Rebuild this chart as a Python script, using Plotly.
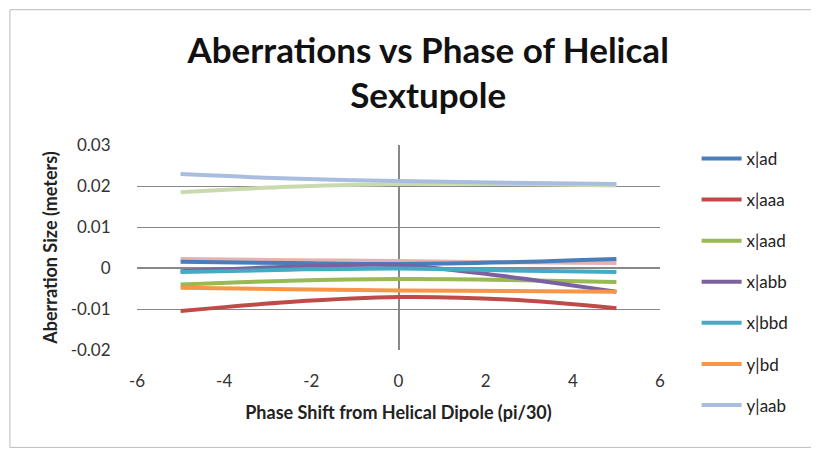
import plotly.graph_objects as go

phase = [-5, -2.5, 0, 2.5, 5]

series_names = ["x|ad", "x|aaa", "x|aad", "x|abb", "x|bbd", "y|bd", "y|aab", "", ""]
series_values = [
    [0.0015, 0.0012, 0.0010, 0.0014, 0.0022],      # x|ad
    [-0.0105, -0.0083, -0.0071, -0.0077, -0.0098], # x|aaa
    [-0.0040, -0.0031, -0.0027, -0.0029, -0.0034], # x|aad
    [-0.0008, 0.0003, 0.0007, -0.0021, -0.0058],   # x|abb
    [-0.0010, -0.0004, -0.0001, -0.0006, -0.0010], # x|bbd
    [-0.0048, -0.0052, -0.0055, -0.0056, -0.0058], # y|bd
    [0.0229, 0.0218, 0.0212, 0.0208, 0.0205],      # y|aab
    [0.0185, 0.0198, 0.0205, 0.0205, 0.0201],      # unlabelled (light green)
    [0.0022, 0.0019, 0.0017, 0.0014, 0.0012],      # unlabelled (pink)
]
series_colors = ["#4A7EBB", "#BE4B48", "#98B954", "#7D60A0", "#46AAC5",
                 "#F79646", "#A9BEDF", "#C9DBAE", "#E2B3B2"]

x_ticks = [-6, -4, -2, 0, 2, 4, 6]
x_labels = ["-6", "-4", "-2", "0", "2", "4", "6"]
y_ticks = [-0.02, -0.01, 0, 0.01, 0.02, 0.03]
y_labels = ["-0.02", "-0.01", "0", "0.01", "0.02", "0.03"]

# draw order so the light lines sit behind
order = [7, 8, 6, 0, 1, 2, 3, 4, 5]

fig = go.Figure()
for i in order:
    fig.add_trace(go.Scatter(
        x=phase, y=series_values[i], mode="lines",
        line=dict(color=series_colors[i], width=4, shape="spline"),
        name=series_names[i], showlegend=bool(series_names[i]),
        legendgroup=str(i), legendrank=i,
    ))

axis_font = dict(family="Lato, Open Sans, sans-serif", size=17, color="#333")
fig.update_layout(
    width=819, height=450,
    margin=dict(l=129, r=167, t=137, b=108),
    paper_bgcolor="white", plot_bgcolor="white",
    font=dict(family="Lato, Open Sans, sans-serif", color="#222"),
    title=dict(text="<b>Aberrations vs Phase of Helical<br>Sextupole</b>",
               font=dict(size=35, color="#111"), x=0.513, xanchor="center",
               y=0.878, yanchor="top", yref="container"),
    xaxis=dict(range=[-6, 6], tickvals=x_ticks, ticktext=x_labels,
               showgrid=False, zeroline=True,
               zerolinecolor="#888", zerolinewidth=1.5, showline=False,
               tickfont=axis_font, ticks="outside", ticklen=16, tickcolor="rgba(0,0,0,0)",
               title=dict(text="<b>Phase Shift from Helical Dipole (pi/30)</b>",
                          font=dict(size=18), standoff=15)),
    yaxis=dict(range=[-0.02, 0.03], tickvals=y_ticks, ticktext=y_labels,
               showgrid=True, gridcolor="#888",
               gridwidth=1.3, zeroline=True, zerolinecolor="#888", zerolinewidth=1.5,
               tickfont=axis_font, ticks="outside", ticklen=22, tickcolor="rgba(0,0,0,0)",
               title=dict(text="<b>Aberration Size (meters)</b>",
                          font=dict(size=18), standoff=8)),
    legend=dict(x=1.07, y=1.02, xanchor="left", yanchor="top",
                font=dict(size=17, color="#222"), tracegroupgap=16,
                itemwidth=40, bgcolor="rgba(0,0,0,0)", maxheight=440),
    shapes=[dict(type="rect", xref="paper", yref="paper",
                 x0=-0.243, x1=1.291, y0=-0.475, y1=1.66,
                 line=dict(color="#BBBBBB", width=1), layer="below")],
)

fig.write_html("out.html")
